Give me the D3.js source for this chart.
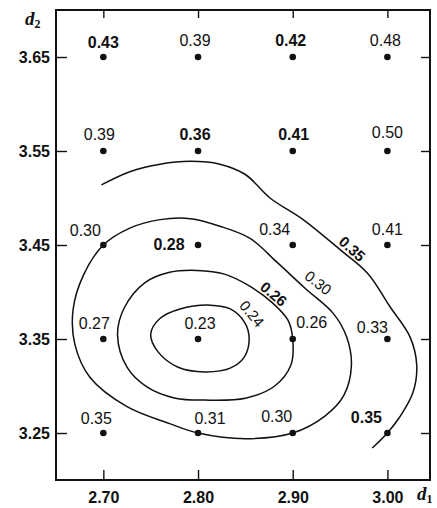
<!DOCTYPE html>
<html>
<head>
<meta charset="utf-8">
<script src="https://cdn.jsdelivr.net/npm/d3@7"></script>
<style>
  body { margin: 0; background: #fff; }
  text { font-family: "Liberation Sans", Arial, sans-serif; fill: #111; }
</style>
</head>
<body>
<div id="chart"></div>
<script>
// grid of d1 / d2 values
var d1Ticks = [2.70, 2.80, 2.90, 3.00]
var d2Ticks = [3.25, 3.35, 3.45, 3.55, 3.65]

// measured value at each grid node, rows follow d2Ticks, columns follow d1Ticks
var values = [
  [0.35, 0.31, 0.30, 0.35],
  [0.27, 0.23, 0.26, 0.33],
  [0.30, 0.28, 0.34, 0.41],
  [0.39, 0.36, 0.41, 0.50],
  [0.43, 0.39, 0.42, 0.48]
]

// hand drawn iso-lines as [d1, d2]
var contour035 = [[2.698,3.514],[2.728,3.528],[2.760,3.536],[2.792,3.539],[2.823,3.536],[2.850,3.525],
  [2.876,3.500],[2.911,3.477],[2.950,3.445],[2.979,3.420],[3.003,3.384],[3.024,3.352],[3.031,3.322],
  [3.027,3.293],[3.013,3.267],[3.000,3.250],[2.984,3.234]]
var contour030 = [[2.700,3.450],[2.728,3.468],[2.760,3.477],[2.792,3.478],[2.823,3.470],[2.855,3.457],
  [2.883,3.432],[2.913,3.404],[2.943,3.377],[2.957,3.352],[2.962,3.322],[2.954,3.290],[2.934,3.268],
  [2.900,3.250],[2.850,3.244],[2.800,3.250],[2.770,3.260],[2.725,3.278],[2.686,3.309],[2.670,3.344],
  [2.668,3.381],[2.679,3.418]]
var contour026 = [[2.799,3.423],[2.828,3.419],[2.855,3.406],[2.878,3.389],[2.895,3.370],[2.900,3.350],
  [2.898,3.322],[2.881,3.300],[2.850,3.287],[2.807,3.285],[2.776,3.287],[2.746,3.299],[2.725,3.320],
  [2.715,3.354],[2.722,3.383],[2.744,3.410],[2.770,3.421]]
var contour024 = [[2.813,3.386],[2.834,3.382],[2.849,3.368],[2.854,3.351],[2.849,3.331],[2.834,3.319],
  [2.807,3.315],[2.779,3.320],[2.758,3.336],[2.750,3.355],[2.760,3.372],[2.781,3.382]]

var contourLevels = ["0.35", "0.30", "0.26", "0.24"]
var contourLabelAt = [[2.963,3.446],[2.927,3.410],[2.880,3.398],[2.857,3.377]]

// layout only: label shift from its dot in px, and which ones print heavier
var labelShift = [
  [[-7,-9],[12,-9],[-16,-11],[-21,-10]],
  [[-9,-10],[2,-10],[19,-11],[-15,-6]],
  [[-18,-9],[-29,5],[-18,-10],[0,-10]],
  [[-4,-11],[-3,-11],[1,-11],[0,-13]],
  [[0,-9],[-3,-11],[-2,-11],[-2,-11]]
]
var heavy = {"4-0":1, "4-2":1, "3-1":1, "3-2":1, "2-1":1, "0-3":1}
var contourAngle = [42, 38, 40, 50]
var contourBold = [true, false, true, false]

const W = 437, H = 508
const margin = {top: 10, right: 7, bottom: 28, left: 56}
const width = W - margin.left - margin.right
const height = H - margin.top - margin.bottom

var svg = d3.select("#chart").append("svg")
  .attr("width", W).attr("height", H)

var g = svg.append("g")
  .attr("transform", "translate(" + margin.left + "," + margin.top + ")")

var x = d3.scaleLinear().domain([2.65, 3.045]).range([0, width])
var y = d3.scaleLinear().domain([3.20, 3.70]).range([height, 0])

var fmt = d3.format(".2f")

// axes with inward ticks
var xAxis = g.append("g").attr("transform", "translate(0," + height + ")")
  .call(d3.axisBottom(x).tickValues(d1Ticks).tickSizeInner(-10).tickSizeOuter(0).tickPadding(12).tickFormat(fmt))
var yAxis = g.append("g")
  .call(d3.axisLeft(y).tickValues(d2Ticks).tickSizeInner(-11).tickSizeOuter(0).tickPadding(6).tickFormat(fmt))
g.append("g")
  .call(d3.axisTop(x).tickValues(d1Ticks).tickSizeInner(-8).tickSizeOuter(0).tickFormat(""))
g.append("g").attr("transform", "translate(" + width + ",0)")
  .call(d3.axisRight(y).tickValues(d2Ticks).tickSizeInner(-9).tickSizeOuter(0).tickFormat(""))

g.selectAll(".domain").remove()
g.selectAll(".tick line").attr("stroke", "#111").attr("stroke-width", 1.4)
xAxis.selectAll("text").style("font-size", "16px").style("font-weight", "bold").attr("fill", "#111")
yAxis.selectAll("text").style("font-size", "16px").style("font-weight", "bold").attr("fill", "#111")

// frame
g.append("rect")
  .attr("x", 0).attr("y", 0).attr("width", width).attr("height", height)
  .attr("fill", "none").attr("stroke", "#111").attr("stroke-width", 2)

// contour lines
var openLine = d3.line().curve(d3.curveCatmullRom.alpha(0.5))
  .x(function(d){ return x(d[0]) }).y(function(d){ return y(d[1]) })
var closedLine = d3.line().curve(d3.curveCatmullRomClosed.alpha(0.5))
  .x(function(d){ return x(d[0]) }).y(function(d){ return y(d[1]) })

g.append("path").attr("d", openLine(contour035))
  .attr("fill", "none").attr("stroke", "#111").attr("stroke-width", 1.5)
;[contour030, contour026, contour024].forEach(function(c){
  g.append("path").attr("d", closedLine(c))
    .attr("fill", "none").attr("stroke", "#111").attr("stroke-width", 1.5)
})

contourLevels.forEach(function(lv, i){
  var px = x(contourLabelAt[i][0]), py = y(contourLabelAt[i][1])
  g.append("text")
    .attr("transform", "translate(" + px + "," + py + ") rotate(" + contourAngle[i] + ")")
    .attr("text-anchor", "middle")
    .attr("dominant-baseline", "central")
    .style("font-size", "15px")
    .style("font-weight", contourBold[i] ? "bold" : "normal")
    .text(lv)
})

// grid points and their values
values.forEach(function(row, r){
  row.forEach(function(v, c){
    var px = x(d1Ticks[c]), py = y(d2Ticks[r])
    g.append("circle").attr("cx", px).attr("cy", py).attr("r", 3.3).attr("fill", "#111")
    g.append("text")
      .attr("x", px + labelShift[r][c][0])
      .attr("y", py + labelShift[r][c][1])
      .attr("text-anchor", "middle")
      .style("font-size", "16px")
      .style("font-weight", heavy[r + "-" + c] ? "bold" : "normal")
      .text(fmt(v))
  })
})

// axis names
var t2 = svg.append("text").attr("x", 25).attr("y", 25)
  .style("font-family", "'Liberation Serif', serif").style("font-style", "italic")
  .style("font-weight", "bold").style("font-size", "19px")
t2.append("tspan").text("d")
t2.append("tspan").attr("dy", 3).style("font-size", "12px").style("font-style", "normal").text("2")

var t1 = svg.append("text").attr("x", 417).attr("y", 500)
  .style("font-family", "'Liberation Serif', serif").style("font-style", "italic")
  .style("font-weight", "bold").style("font-size", "19px")
t1.append("tspan").text("d")
t1.append("tspan").attr("dy", 3).style("font-size", "12px").style("font-style", "normal").text("1")
</script>
</body>
</html>
